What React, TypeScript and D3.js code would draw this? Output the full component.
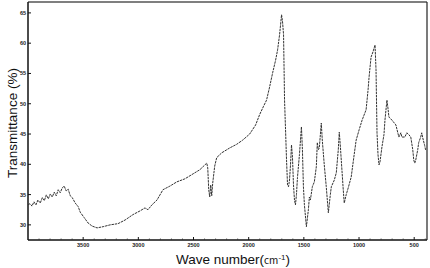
import React from "react";
import * as d3 from "d3";

const wavenumber = [
  4000, 3982, 3964, 3946, 3928, 3910, 3889, 3870, 3852, 3834, 3816, 3798, 3780, 3762, 3744, 3726, 3708, 3690, 3672, 3654,
  3636, 3617, 3599, 3572, 3545, 3527, 3491, 3455, 3419, 3374, 3319, 3256, 3184, 3120, 3048, 2985, 2940, 2913, 2877, 2831,
  2777, 2714, 2651, 2578, 2515, 2443, 2380, 2371, 2362, 2353, 2344, 2335, 2326, 2308, 2290, 2244, 2172, 2109, 2054, 1991,
  1937, 1901, 1865, 1838, 1810, 1783, 1756, 1738, 1720, 1702, 1693, 1684, 1675, 1666, 1657, 1648, 1639, 1630, 1621, 1612,
  1603, 1594, 1585, 1576, 1567, 1558, 1540, 1522, 1513, 1504, 1495, 1477, 1459, 1450, 1441, 1423, 1405, 1387, 1378, 1369,
  1360, 1342, 1333, 1315, 1297, 1278, 1260, 1251, 1224, 1206, 1188, 1179, 1170, 1161, 1143, 1134, 1116, 1098, 1071, 1044,
  1026, 999, 972, 936, 918, 909, 891, 873, 855, 846, 837, 828, 819, 810, 792, 774, 765, 747, 738, 729,
  702, 666, 639, 621, 612, 585, 567, 549, 531, 513, 504, 495, 486, 468, 459, 441, 432, 423, 405, 396,
];
const transmittance = [
  33.3, 33.5, 33.1, 33.8, 33.3, 34.1, 33.6, 34.5, 34.0, 34.95, 34.3, 35.1, 34.6, 35.4, 34.8, 35.8, 35.3, 36.1, 36.4, 35.6,
  35.9, 34.8, 34.5, 33.6, 33.0, 32.1, 31.2, 30.3, 29.8, 29.5, 29.7, 30.0, 30.2, 30.8, 31.7, 32.3, 32.8, 32.5, 33.3, 34.1,
  35.8, 36.4, 37.1, 37.6, 38.3, 39.1, 40.2, 39.4, 35.8, 34.6, 36.6, 34.8, 36.9, 39.7, 41.1, 41.9, 42.7, 43.3, 44.0, 45.0,
  46.5, 48.2, 49.6, 50.6, 52.8, 55.1, 57.2, 58.9, 61.4, 64.7, 63.5, 61.4, 50.6, 45.7, 40.7, 36.6, 36.3, 37.4, 39.9, 43.2,
  41.1, 36.6, 34.1, 33.3, 35.0, 37.8, 41.6, 46.2, 42.4, 36.3, 33.3, 29.7, 32.5, 34.6, 34.1, 36.3, 37.1, 39.6, 43.6, 42.4,
  42.7, 46.8, 44.0, 39.9, 36.3, 32.0, 35.0, 36.3, 37.4, 38.6, 42.4, 45.3, 43.2, 40.7, 35.8, 33.6, 35.0, 36.1, 37.9, 41.6,
  44.0, 45.7, 47.3, 49.0, 52.3, 54.4, 57.7, 58.6, 59.7, 55.6, 45.2, 41.6, 39.9, 40.4, 42.9, 44.9, 47.3, 50.6, 49.3, 47.8,
  47.3, 46.5, 44.5, 45.2, 44.5, 44.5, 45.2, 44.9, 44.5, 42.4, 40.7, 40.2, 40.7, 42.4, 43.6, 44.5, 45.2, 44.4, 43.1, 42.3,
];
const xTicks = [3500, 3000, 2500, 2000, 1500, 1000, 500];
const yTicks = [30, 35, 40, 45, 50, 55, 60, 65];

export default function App() {
  const W = 430, H = 268;
  const left = 28, right = 427, top = 2, bottom = 240;
  const x = d3.scaleLinear().domain([4000, 384]).range([left, right]);
  const y = d3.scaleLinear().domain([27.5, 66.8]).range([bottom, top]);
  const pts = wavenumber.map((w, i) => [w, transmittance[i]] as [number, number]);
  const line = d3.line<[number, number]>().x(d => x(d[0])).y(d => y(d[1]));
  const minor = d3.range(3900, 399, -100).filter(v => v % 500 !== 0);
  return (
    <svg width={W} height={H} style={{ position: "absolute", left: 0, top: 0, background: "#fff" }}
      fontFamily="Liberation Sans, Arial, sans-serif">
      <rect x={0} y={0} width={W} height={H} fill="#fff" />
      {/* frame */}
      <line x1={left} x2={right} y1={top} y2={top} stroke="#555" strokeWidth={1.5} />
      <line x1={right} x2={right} y1={top} y2={bottom} stroke="#222" strokeWidth={1.2} />
      <line x1={left} x2={left} y1={top} y2={bottom} stroke="#111" strokeWidth={1.5} />
      <line x1={left} x2={right} y1={bottom} y2={bottom} stroke="#111" strokeWidth={1.5} />
      {/* x ticks */}
      {xTicks.map(t => (
        <g key={t}>
          <line x1={x(t)} x2={x(t)} y1={bottom} y2={bottom - 3} stroke="#111" strokeWidth={1} />
          <text x={x(t)} y={bottom + 7} fontSize={5.5} fontWeight="bold" textAnchor="middle" fill="#222">{t}</text>
        </g>
      ))}
      {minor.map(t => (
        <line key={t} x1={x(t)} x2={x(t)} y1={bottom} y2={bottom - 1.5} stroke="#333" strokeWidth={0.8} />
      ))}
      {/* y ticks */}
      {yTicks.map(t => (
        <g key={t}>
          <line x1={left} x2={left + 3} y1={y(t)} y2={y(t)} stroke="#111" strokeWidth={1} />
          <text x={left - 2} y={y(t) + 2} fontSize={5.5} fontWeight="bold" textAnchor="end" fill="#222">{t}</text>
        </g>
      ))}
      {/* curve */}
      <path d={line(pts) || ""} fill="none" stroke="#333" strokeWidth={1} strokeDasharray="2.5,0.8" strokeLinejoin="round" />
      {/* labels */}
      <text transform={`translate(17,${(top + bottom) / 2 + 2}) rotate(-90)`} textAnchor="middle" fontSize={13.5} fill="#111">
        Transmittance (%)
      </text>
      <text x={233} y={264} textAnchor="middle" fontSize={13.5} fill="#111">
        Wave number(
        <tspan fontSize={10} fontFamily="Noto Sans CJK JP, sans-serif">cm</tspan>
        <tspan fontSize={8} dy={-4}>-1</tspan>
        <tspan dy={4}>)</tspan>
      </text>
    </svg>
  );
}
